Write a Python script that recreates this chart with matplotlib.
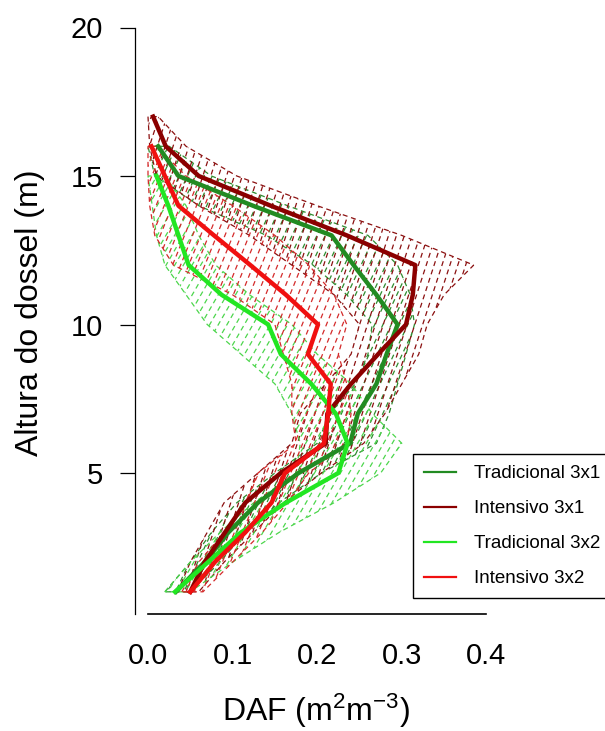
import numpy as np
import matplotlib
matplotlib.use('Agg')
import matplotlib.pyplot as plt
from matplotlib.patches import Polygon
from matplotlib.collections import LineCollection

plt.rcParams['font.family'] = 'Liberation Sans'
plt.rcParams['mathtext.fontset'] = 'custom'
plt.rcParams['mathtext.rm'] = 'Liberation Sans'
plt.rcParams['mathtext.it'] = 'Liberation Sans:italic'

# alturas (m)
h31 = np.arange(1, 17)      # Tradicional 3x1
h31i = np.arange(1, 18)     # Intensivo 3x1
h32 = np.arange(1, 16)      # Tradicional 3x2
h32i = np.arange(1, 17)     # Intensivo 3x2

# curvas medias de DAF
trad31 = [0.033, 0.067, 0.095, 0.13, 0.178, 0.239, 0.248, 0.27, 0.282, 0.295,
          0.27, 0.243, 0.217, 0.124, 0.036, 0.012]
int31 = [0.05, 0.067, 0.091, 0.115, 0.157, 0.21, 0.212, 0.24, 0.272, 0.305,
         0.313, 0.316, 0.235, 0.145, 0.06, 0.021, 0.006]
trad32 = [0.032, 0.071, 0.11, 0.163, 0.225, 0.236, 0.222, 0.193, 0.157, 0.142,
          0.087, 0.048, 0.036, 0.024, 0.01]
int32 = [0.05, 0.079, 0.115, 0.146, 0.162, 0.208, 0.213, 0.216, 0.189, 0.201,
         0.163, 0.121, 0.078, 0.036, 0.02, 0.004]

# limites das bandas
trad31_lo = [0.02, 0.05, 0.075, 0.105, 0.15, 0.2, 0.215, 0.245, 0.26, 0.265,
             0.235, 0.195, 0.14, 0.06, 0.008, 0.0]
trad31_hi = [0.05, 0.085, 0.115, 0.155, 0.205, 0.27, 0.285, 0.295, 0.305, 0.315,
             0.31, 0.295, 0.26, 0.165, 0.075, 0.025]
int31_lo = [0.035, 0.05, 0.07, 0.09, 0.13, 0.17, 0.18, 0.21, 0.24, 0.25,
            0.22, 0.17, 0.12, 0.06, 0.01, 0.002, 0.0]
int31_hi = [0.06, 0.09, 0.125, 0.16, 0.205, 0.255, 0.28, 0.3, 0.32, 0.33,
            0.35, 0.385, 0.3, 0.2, 0.105, 0.045, 0.012]
trad32_lo = [0.02, 0.05, 0.085, 0.125, 0.175, 0.18, 0.17, 0.15, 0.11, 0.07,
             0.045, 0.02, 0.01, 0.005, 0.0]
trad32_hi = [0.05, 0.1, 0.155, 0.22, 0.275, 0.3, 0.265, 0.24, 0.2, 0.17,
             0.12, 0.08, 0.06, 0.045, 0.02]
int32_lo = [0.04, 0.06, 0.09, 0.115, 0.13, 0.175, 0.17, 0.17, 0.16, 0.15,
            0.1, 0.03, 0.008, 0.002, 0.0, 0.0]
int32_hi = [0.065, 0.1, 0.135, 0.165, 0.19, 0.235, 0.24, 0.235, 0.225, 0.235,
            0.22, 0.19, 0.15, 0.1, 0.045, 0.01]

labels = ['Tradicional 3x1', 'Intensivo 3x1', 'Tradicional 3x2', 'Intensivo 3x2']
cores = ['#228B22', '#8B0000', '#22E622', '#F01010']
cores_banda = ['#2E8B2E', '#8B1010', '#4CD64C', '#D42A2A']

fig = plt.figure(figsize=(6.05, 7.31), dpi=100)
ax = fig.add_axes([135 / 605, (731 - 614) / 731, 1 - 135 / 605, (614 - 20) / 731])
ax.set_xlim(-13 / 846, 457 / 846)
ax.set_ylim((621.5 - 614) / 29.7, (621.5 - 20) / 29.7)

bbox = ax.get_window_extent()
W, H = bbox.width, bbox.height


def banda(h, lo, hi, cor, ang, esp):
    pts = np.column_stack([np.r_[lo, hi[::-1]], np.r_[h, h[::-1]]])
    poly = Polygon(pts, closed=True, facecolor='none', edgecolor=cor,
                   lw=0.9, ls=(0, (4, 3)), zorder=1)
    ax.add_patch(poly)
    a = np.deg2rad(ang)
    d = np.array([np.cos(a), np.sin(a)])
    n = np.array([-np.sin(a), np.cos(a)])
    L = np.hypot(W, H)
    segs = []
    for c in np.arange(-L, L, esp):
        p0 = c * n - L * d
        p1 = c * n + L * d
        segs.append([(p0[0] / W + 0.5, p0[1] / H + 0.5),
                     (p1[0] / W + 0.5, p1[1] / H + 0.5)])
    lc = LineCollection(segs, colors=cor, linewidths=0.9,
                        linestyles=[(0, (4, 3))], transform=ax.transAxes, zorder=1)
    ax.add_collection(lc)
    lc.set_clip_path(poly)


banda(h31, trad31_lo, trad31_hi, cores_banda[0], 65, 7.5)
banda(h31i, int31_lo, int31_hi, cores_banda[1], 72, 7.5)
banda(h32, trad32_lo, trad32_hi, cores_banda[2], 60, 7.5)
banda(h32i, int32_lo, int32_hi, cores_banda[3], 68, 7.5)

ax.plot(trad31, h31, color=cores[0], lw=3.2, zorder=3)
ax.plot(int31, h31i, color=cores[1], lw=3.2, zorder=3)
ax.plot(trad32, h32, color=cores[2], lw=3.2, zorder=3)
ax.plot(int32, h32i, color=cores[3], lw=3.2, zorder=3)

for s in ['top', 'right']:
    ax.spines[s].set_visible(False)
ax.spines['left'].set_bounds(ax.get_ylim()[0], 20)
ax.spines['bottom'].set_bounds(0, 0.4)
ax.spines['left'].set_linewidth(0.9)
ax.spines['bottom'].set_linewidth(1.2)

ax.set_yticks([5, 10, 15, 20])
ax.set_xticks([0.0, 0.1, 0.2, 0.3, 0.4])
ax.set_xticklabels(['0.0', '0.1', '0.2', '0.3', '0.4'])
ax.tick_params(axis='y', length=10.8, width=0.9, pad=12, labelsize=21)
ax.tick_params(axis='x', length=0, pad=20.5, labelsize=21)

fig.text(30 / 605, 1 - 313 / 731, 'Altura do dossel (m)', rotation=90,
         ha='center', va='center', fontsize=23)
fig.text(316 / 605, 1 - 721 / 731, 'DAF (m$^{2}$m$^{-3}$)',
         ha='center', va='baseline', fontsize=23)

handles = [plt.Line2D([], [], color=c, lw=1.6) for c in cores]
leg = fig.legend(handles, labels, loc='upper left',
                 bbox_to_anchor=(413 / 605, 1 - 454 / 731),
                 bbox_transform=fig.transFigure, borderaxespad=0,
                 fontsize=13.5, frameon=True, fancybox=False, framealpha=1,
                 edgecolor='black', handlelength=1.7, handletextpad=0.95,
                 labelspacing=0.95, borderpad=0.6)
leg.get_frame().set_linewidth(1.0)

fig.savefig('out.png', dpi=100)
